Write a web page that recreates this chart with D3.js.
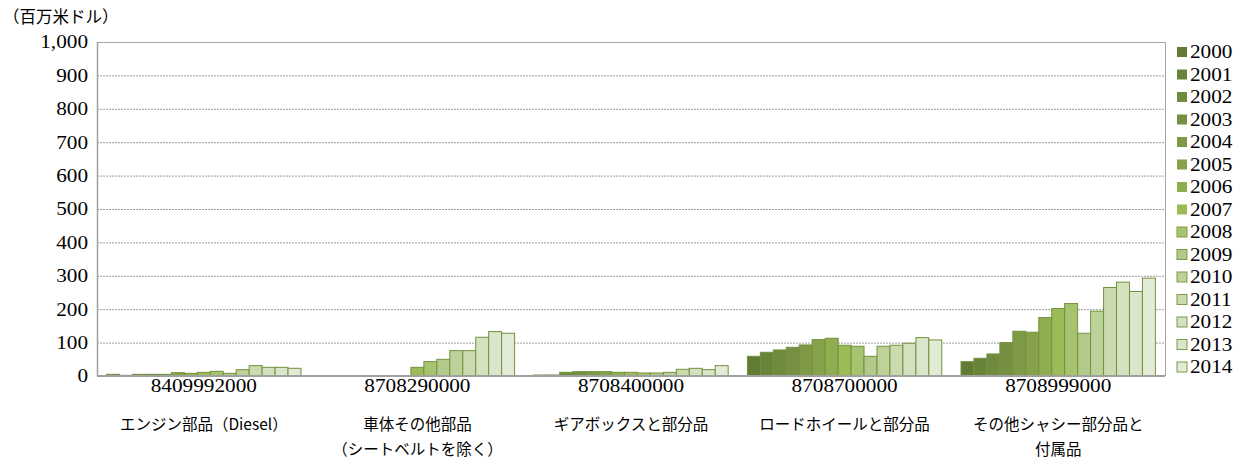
<!DOCTYPE html>
<html><head><meta charset="utf-8">
<script src="https://cdn.jsdelivr.net/npm/d3@7"></script>
<style>body{margin:0;background:#fff}svg{display:block}</style>
</head><body>
<svg id="c" width="1246" height="459"></svg>
<script>
const categories = ["8409992000","8708290000","8708400000","8708700000","8708999000"];
const categoryNames = [["エンジン部品（Diesel）"],["車体その他部品","（シートベルトを除く）"],["ギアボックスと部分品"],["ロードホイールと部分品"],["その他シャシー部分品と","付属品"]];
const years = ["2000","2001","2002","2003","2004","2005","2006","2007","2008","2009","2010","2011","2012","2013","2014"];
const v8409992000 = [5,2,5,5,5,10,8,11,14,8,19,31,26,26,23];
const v8708290000 = [0,0,0,0,0,0,0,26,43,50,76,76,116,133,128];
const v8708400000 = [3,3,11,13,13,13,11,11,9,9,11,20,23,19,31];
const v8708700000 = [59,71,78,86,93,109,113,92,89,59,89,92,98,115,108];
const v8708999000 = [43,53,66,100,134,131,175,202,217,128,194,265,281,253,293];
const yTicks = [0,100,200,300,400,500,600,700,800,900,1000];
const colors = ["#617a34","#68833a","#6f8b3e","#768f42","#7e9a47","#86a34c","#8fae50","#9bbb57","#a6c46f","#b3c98b","#bdd29a","#c9dbaf","#d3e2bf","#dae6cb","#e2ebd6"];
const series = [v8409992000,v8708290000,v8708400000,v8708700000,v8708999000];

const svg = d3.select("#c");
const L=97,R=1165,T=42,B=376;
const serif = "'Liberation Serif', 'Times New Roman', Tinos, serif";
const jp = "'Noto Sans CJK JP', sans-serif";
const SX = 1.18;
const x0 = d3.scaleBand().domain(categories).range([L,R]).paddingInner(0.09).paddingOuter(0.045);
const x1 = d3.scaleBand().domain(years).range([0,x0.bandwidth()]).padding(0);
const y = d3.scaleLinear().domain([0,1000]).range([B,T]);

function latin(parent, x, yy, txt, anchor, size){
  return parent.append("text")
    .attr("transform",`translate(${x},${yy}) scale(${SX},1)`)
    .attr("text-anchor",anchor).attr("dy","0.35em")
    .style("font-family",serif).style("font-size",size+"px").attr("fill","#000").text(txt);
}

// grid
svg.append("g").selectAll("line").data(yTicks.filter(t=>t>0&&t<1000)).join("line")
  .attr("x1",L).attr("x2",R).attr("y1",d=>y(d)+0.5).attr("y2",d=>y(d)+0.5)
  .attr("stroke","#9a9a9a").attr("stroke-width",1).attr("stroke-dasharray","2,1");
// box
svg.append("line").attr("x1",L).attr("x2",R).attr("y1",T+0.5).attr("y2",T+0.5).attr("stroke","#a6a6a6");
svg.append("line").attr("x1",R+0.5).attr("x2",R+0.5).attr("y1",T).attr("y2",B).attr("stroke","#a6a6a6");

// bars
const g = svg.append("g");
categories.forEach((c,ci)=>{
  g.append("g").selectAll("rect").data(series[ci].map((v,i)=>({v,i}))).join("rect")
    .attr("x",d=>x0(c)+x1(years[d.i]))
    .attr("width",x1.bandwidth())
    .attr("y",d=>y(d.v))
    .attr("height",d=>B-y(d.v))
    .attr("fill",d=>colors[d.i])
    .attr("stroke",d=>d.v>0?"#74913f":"none").attr("stroke-width",1);
});

// axes lines
svg.append("line").attr("x1",L+0.5).attr("x2",L+0.5).attr("y1",T).attr("y2",B).attr("stroke","#a0a0a0").attr("stroke-width",1.5);
svg.append("line").attr("x1",L).attr("x2",R).attr("y1",B).attr("y2",B).attr("stroke","#a0a0a0").attr("stroke-width",2);

// y tick labels
const fmt = d3.format(",");
const yt = svg.append("g");
yTicks.forEach(t=>latin(yt, 88, y(t), fmt(t), "end", 18));

svg.append("text").attr("x",3).attr("y",17).attr("dy","0.35em").style("font-family",jp).style("font-size","16.5px").text("（百万米ドル）");

// category labels
categories.forEach((c,ci)=>{
  const cx = x0(c)+x0.bandwidth()/2;
  latin(svg, cx, 386, c, "middle", 18);
  categoryNames[ci].forEach((n,li)=>{
    svg.append("text").attr("x",cx).attr("y",425+li*25).attr("dy","0.35em").attr("text-anchor","middle")
      .style("font-family",jp).style("font-size","15.5px").text(n);
  });
});

// legend
const lg = svg.append("g");
years.forEach((yr,i)=>{
  const yy = 52 + i*22.5;
  lg.append("rect").attr("x",1177).attr("y",yy-5).attr("width",10).attr("height",10).attr("fill",colors[i]).attr("stroke", i>=8?"#7d9a4a":"none");
  latin(lg, 1190, yy, yr, "start", 18);
});
</script>
</body></html>
